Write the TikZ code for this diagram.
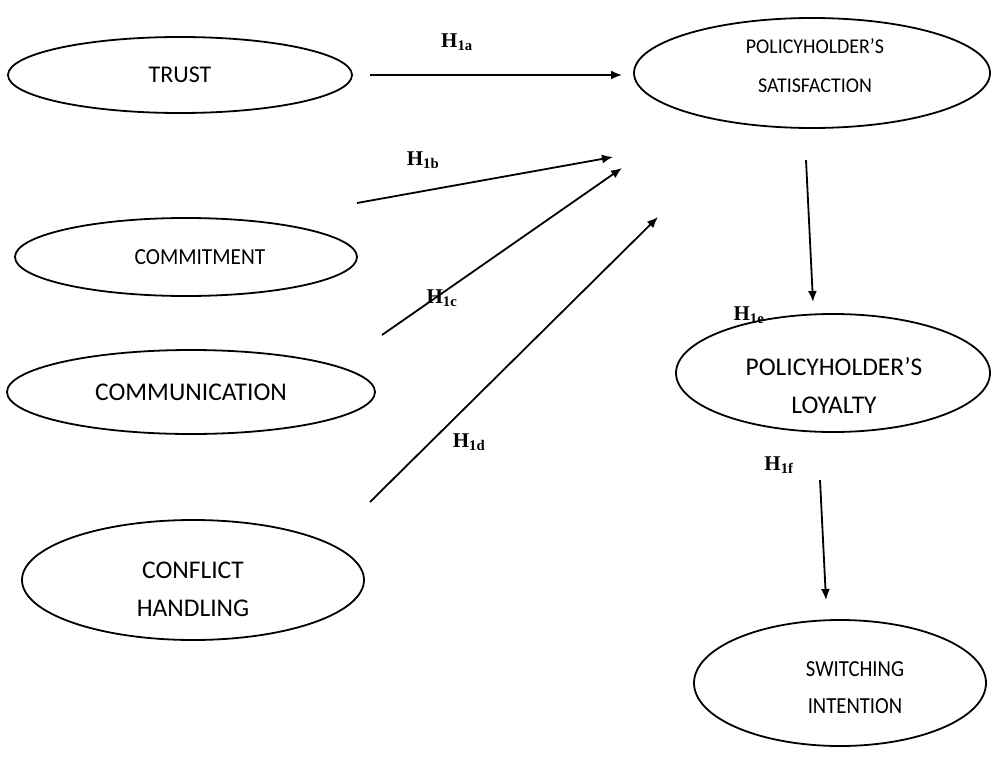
\documentclass[tikz,border=0pt]{standalone}
\usepackage{fontspec}
\setmainfont{Carlito}
\newfontfamily\hfont{Liberation Serif}
\usetikzlibrary{arrows.meta}
\begin{document}
\begin{tikzpicture}[x=1pt,y=-1pt,
  ell/.style={draw,line width=1.8pt},
  lbl/.style={align=center},
  arr/.style={line width=1.8pt,-{Latex[length=11pt,width=9pt]}},
  hyp/.style={font=\hfont\bfseries\fontsize{21}{24}\selectfont}]
\useasboundingbox (0,0) rectangle (992,776);
\draw[ell] (180,75) ellipse [x radius=172, y radius=38];
\node[lbl,font=\fontsize{24}{37}\selectfont] (trust) at (180,75) {TRUST};
\draw[ell] (186,257) ellipse [x radius=171, y radius=39];
\node[lbl,font=\fontsize{23}{37}\selectfont] (commit) at (200,257) {\scalebox{0.93}[1]{COMMITMENT}};
\draw[ell] (191,392) ellipse [x radius=184, y radius=42];
\node[lbl,font=\fontsize{25.5}{37}\selectfont] (comm) at (191,392) {COMMUNICATION};
\draw[ell] (193,580) ellipse [x radius=171, y radius=60];
\node[lbl,font=\fontsize{25.5}{38}\selectfont] (conf) at (193,589) {CONFLICT\\HANDLING};
\draw[ell] (812,73) ellipse [x radius=178, y radius=55];
\node[lbl,font=\fontsize{21}{39}\selectfont] (sat) at (815,66) {\scalebox{0.95}[1]{POLICYHOLDER’S}\\\scalebox{0.95}[1]{SATISFACTION}};
\draw[ell] (833,373) ellipse [x radius=157, y radius=59];
\node[lbl,font=\fontsize{25.5}{38}\selectfont] (loy) at (834,386) {POLICYHOLDER’S\\LOYALTY};
\draw[ell] (840,683) ellipse [x radius=146, y radius=63];
\node[lbl,font=\fontsize{23}{37}\selectfont] (sw) at (855,688) {\scalebox{0.9}[1]{SWITCHING}\\\scalebox{0.9}[1]{INTENTION}};
\coordinate (a1) at (370,75); \coordinate (a2) at (622,75);
\coordinate (b1) at (357,203); \coordinate (b2) at (613,157);
\coordinate (c1) at (382,335); \coordinate (c2) at (622,168);
\coordinate (d1) at (370,502); \coordinate (d2) at (658,217);
\coordinate (e1) at (806,160); \coordinate (e2) at (813,302);
\coordinate (f1) at (820,480); \coordinate (f2) at (826,600);
\draw[arr] (a1) -- (a2);
\draw[arr] (b1) -- (b2);
\draw[arr] (c1) -- (c2);
\draw[arr] (d1) -- (d2);
\draw[arr] (e1) -- (e2);
\draw[arr] (f1) -- (f2);
\node[hyp] (h1a) at (457,42) {H\textsubscript{1a}};
\node[hyp] (h1b) at (423,160) {H\textsubscript{1b}};
\node[hyp] (h1c) at (442,298) {H\textsubscript{1c}};
\node[hyp] (h1d) at (469,442) {H\textsubscript{1d}};
\node[hyp] (h1e) at (749,315) {H\textsubscript{1e}};
\node[hyp] (h1f) at (779,465) {H\textsubscript{1f}};
\end{tikzpicture}
\end{document}
